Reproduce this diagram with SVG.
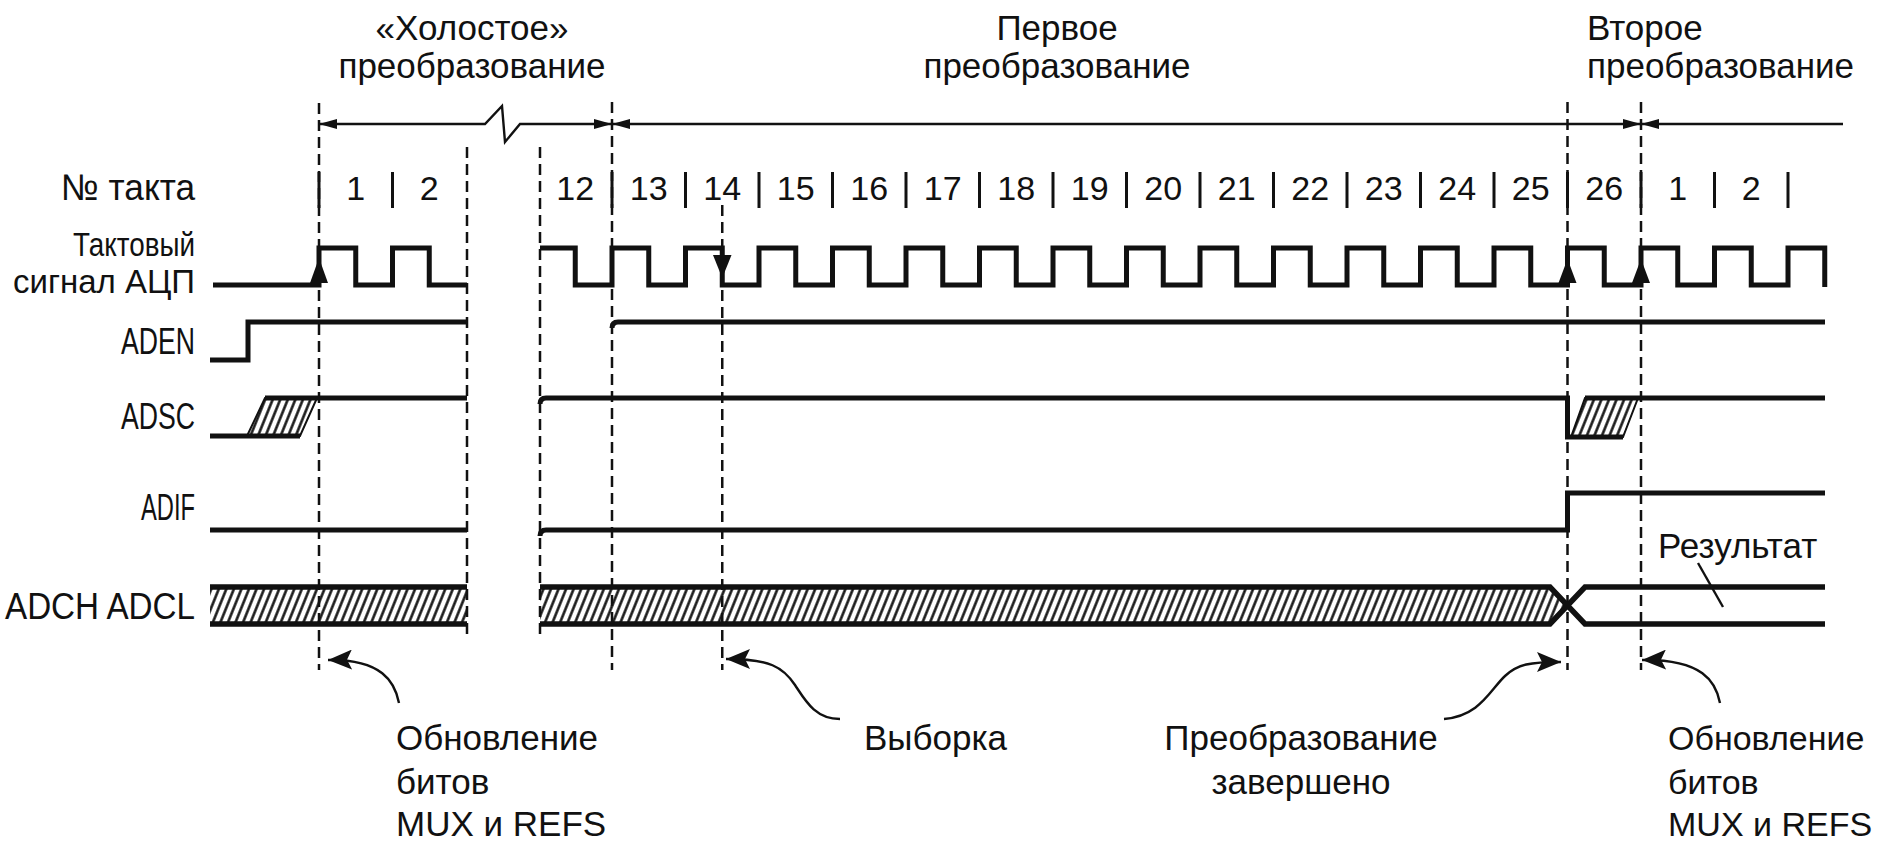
<svg xmlns="http://www.w3.org/2000/svg" width="1878" height="845" viewBox="0 0 1878 845">
<style>
text{font-family:"Liberation Sans",Arial,sans-serif;font-size:35px;fill:#111}
.lbl{text-anchor:end;font-size:37px}
.lbl2{text-anchor:end;font-size:34px}
.num{text-anchor:middle;font-size:34px}
.mid{text-anchor:middle}
.note2{font-size:34px}
.sig{fill:none;stroke:#111;stroke-width:5;stroke-linejoin:miter;stroke-linecap:butt}
.band{fill:none;stroke:#111;stroke-width:5.5;stroke-linejoin:miter}
.dash{fill:none;stroke:#111;stroke-width:2.5;stroke-dasharray:11 6}
.sep{stroke:#111;stroke-width:3}
.thin{fill:none;stroke:#111;stroke-width:2.4}
.head{fill:#111}
</style>
<defs>
<pattern id="hatch" width="7" height="7" patternUnits="userSpaceOnUse" patternTransform="rotate(22)">
<line x1="3.5" y1="0" x2="3.5" y2="7" stroke="#111" stroke-width="2.5"/>
</pattern>
<marker id="dim" viewBox="0 0 18 10" refX="18" refY="5" markerWidth="18" markerHeight="10" markerUnits="userSpaceOnUse" orient="auto-start-reverse">
<path d="M0,0 L18,5 L0,10 Z" fill="#111"/>
</marker>
<marker id="cur" viewBox="0 0 24 20" refX="24" refY="10" markerWidth="24" markerHeight="20" markerUnits="userSpaceOnUse" orient="auto">
<path d="M0,0 L24,10 L0,20 L5,10 Z" fill="#111"/>
</marker>
</defs>
<rect width="1878" height="845" fill="#fff"/>

<g id="titles">
<text class="mid" x="472" y="40">«Холостое»</text>
<text class="mid" x="472" y="78">преобразование</text>
<text class="mid" x="1057" y="40">Первое</text>
<text class="mid" x="1057" y="78">преобразование</text>
<text x="1587" y="40">Второе</text>
<text x="1587" y="78">преобразование</text>
</g>

<g id="labels">
<text class="lbl" x="195" y="200" textLength="134" lengthAdjust="spacingAndGlyphs">№ такта</text>
<text class="lbl2" x="195" y="256" textLength="122" lengthAdjust="spacingAndGlyphs">Тактовый</text>
<text class="lbl2" x="195" y="293" textLength="182" lengthAdjust="spacingAndGlyphs">сигнал АЦП</text>
<text class="lbl" x="195" y="354" textLength="74" lengthAdjust="spacingAndGlyphs">ADEN</text>
<text class="lbl" x="195" y="429" textLength="74" lengthAdjust="spacingAndGlyphs">ADSC</text>
<text class="lbl" x="195" y="520" textLength="54" lengthAdjust="spacingAndGlyphs">ADIF</text>
<text class="lbl" x="195" y="619" textLength="190" lengthAdjust="spacingAndGlyphs">ADCH ADCL</text>
</g>

<g id="guides">
<line class="dash" x1="319" y1="103" x2="319" y2="670"/>
<line class="dash" x1="467" y1="147" x2="467" y2="640"/>
<line class="dash" x1="540" y1="147" x2="540" y2="640"/>
<line class="dash" x1="612" y1="102" x2="612" y2="670"/>
<line class="dash" x1="722.25" y1="205" x2="722.25" y2="670"/>
<line class="dash" x1="1567.5" y1="102" x2="1567.5" y2="670"/>
<line class="dash" x1="1641" y1="102" x2="1641" y2="670"/>
</g>

<g id="cycle-numbers">
<g class="sep">
<line x1="319" y1="172" x2="319" y2="208"/>
<line x1="392.5" y1="172" x2="392.5" y2="208"/>
<line x1="612" y1="172" x2="612" y2="208"/>
<line x1="685.5" y1="172" x2="685.5" y2="208"/>
<line x1="759" y1="172" x2="759" y2="208"/>
<line x1="832.5" y1="172" x2="832.5" y2="208"/>
<line x1="906" y1="172" x2="906" y2="208"/>
<line x1="979.5" y1="172" x2="979.5" y2="208"/>
<line x1="1053" y1="172" x2="1053" y2="208"/>
<line x1="1126.5" y1="172" x2="1126.5" y2="208"/>
<line x1="1200" y1="172" x2="1200" y2="208"/>
<line x1="1273.5" y1="172" x2="1273.5" y2="208"/>
<line x1="1347" y1="172" x2="1347" y2="208"/>
<line x1="1420.5" y1="172" x2="1420.5" y2="208"/>
<line x1="1494" y1="172" x2="1494" y2="208"/>
<line x1="1567.5" y1="172" x2="1567.5" y2="208"/>
<line x1="1641" y1="172" x2="1641" y2="208"/>
<line x1="1714.5" y1="172" x2="1714.5" y2="208"/>
<line x1="1788" y1="172" x2="1788" y2="208"/>
</g>
<text class="num" x="355.75" y="200">1</text>
<text class="num" x="429.25" y="200">2</text>
<text class="num" x="575.25" y="200">12</text>
<text class="num" x="648.75" y="200">13</text>
<text class="num" x="722.25" y="200">14</text>
<text class="num" x="795.75" y="200">15</text>
<text class="num" x="869.25" y="200">16</text>
<text class="num" x="942.75" y="200">17</text>
<text class="num" x="1016.25" y="200">18</text>
<text class="num" x="1089.75" y="200">19</text>
<text class="num" x="1163.25" y="200">20</text>
<text class="num" x="1236.75" y="200">21</text>
<text class="num" x="1310.25" y="200">22</text>
<text class="num" x="1383.75" y="200">23</text>
<text class="num" x="1457.25" y="200">24</text>
<text class="num" x="1530.75" y="200">25</text>
<text class="num" x="1604.25" y="200">26</text>
<text class="num" x="1677.75" y="200">1</text>
<text class="num" x="1751.25" y="200">2</text>
</g>

<g id="clock">
<path class="sig" d="M213,285 H319 V248 H355.75 V285 H392.5 V248 H429.25 V285 H467"/>
<path class="sig" d="M540,248 H575.25 V285 H612 V248 H648.75 V285 H685.5 V248 H722.25 V285 H759 V248 H795.75 V285 H832.5 V248 H869.25 V285 H906 V248 H942.75 V285 H979.5 V248 H1016.25 V285 H1053 V248 H1089.75 V285 H1126.5 V248 H1163.25 V285 H1200 V248 H1236.75 V285 H1273.5 V248 H1310.25 V285 H1347 V248 H1383.75 V285 H1420.5 V248 H1457.25 V285 H1494 V248 H1530.75 V285 H1567.5 V248 H1604.25 V285 H1641 V248 H1677.75 V285 H1714.5 V248 H1751.25 V285 H1788 V248 H1824.75 V287"/>
<path class="head" d="M310,283 L319,258 L328,283 Z"/>
<path class="head" d="M713,255 L722.25,278 L731.5,255 Z"/>
<path class="head" d="M1558.5,283 L1567.5,259 L1576.5,283 Z"/>
<path class="head" d="M1632,283 L1641,259 L1650,283 Z"/>
</g>

<g id="aden">
<path class="sig" d="M210,360 H248 V322 H467"/>
<path class="sig" d="M612,328 Q612,322 618,322 H1825"/>
</g>

<g id="adsc">
<polygon points="247,436 265,398 317,398 300,436" fill="url(#hatch)" stroke="#111" stroke-width="2"/>
<path class="sig" d="M210,436 H300"/>
<path class="sig" d="M265,398 H467"/>
<path class="sig" d="M540,404 Q540,398 546,398 H1567.5 V437 H1623"/>
<polygon points="1571,437 1585,398 1638,398 1623,437" fill="url(#hatch)" stroke="#111" stroke-width="2"/>
<path class="sig" d="M1585,398 H1825"/>
</g>

<g id="adif">
<path class="sig" d="M210,530 H467"/>
<path class="sig" d="M540,536 Q540,530 546,530 H1567.5 V493 H1825"/>
</g>

<g id="adch-adcl">
<rect x="210" y="587" width="257" height="37" fill="url(#hatch)"/>
<path class="band" d="M210,587 H467 M210,624 H467"/>
<polygon points="540,587 1550,587 1567.5,605.5 1550,624 540,624" fill="url(#hatch)"/>
<path class="band" d="M540,587 H1550 L1585,624 H1825 M540,624 H1550 L1585,587 H1825"/>
<text x="1658" y="558">Результат</text>
<line class="thin" x1="1698" y1="563" x2="1723" y2="607"/>
</g>

<g id="connectors">
<path class="thin" d="M319,124 H485 L502,106 L505,142 L520,124 H612" marker-start="url(#dim)" marker-end="url(#dim)"/>
<path class="thin" d="M612,124 H1641" marker-start="url(#dim)" marker-end="url(#dim)"/>
<path class="thin" d="M1641,124 H1843" marker-start="url(#dim)"/>
<path class="thin" d="M399,703 C395,682 382,659 328,660" marker-end="url(#cur)"/>
<path class="thin" d="M840,719 C815,719 805,700 795,685 C783,667 770,659 726,659" marker-end="url(#cur)"/>
<path class="thin" d="M1444,719 C1480,716 1490,690 1505,676 C1518,664 1530,662 1561,662" marker-end="url(#cur)"/>
<path class="thin" d="M1720,703 C1716,682 1703,659 1642,660" marker-end="url(#cur)"/>
</g>

<g id="notes">
<text x="396" y="750">Обновление</text>
<text x="396" y="794">битов</text>
<text x="396" y="836">MUX и REFS</text>
<text x="864" y="750">Выборка</text>
<text class="mid" x="1301" y="750">Преобразование</text>
<text class="mid" x="1301" y="794">завершено</text>
<text class="note2" x="1668" y="750">Обновление</text>
<text class="note2" x="1668" y="794">битов</text>
<text class="note2" x="1668" y="836">MUX и REFS</text>
</g>
</svg>
